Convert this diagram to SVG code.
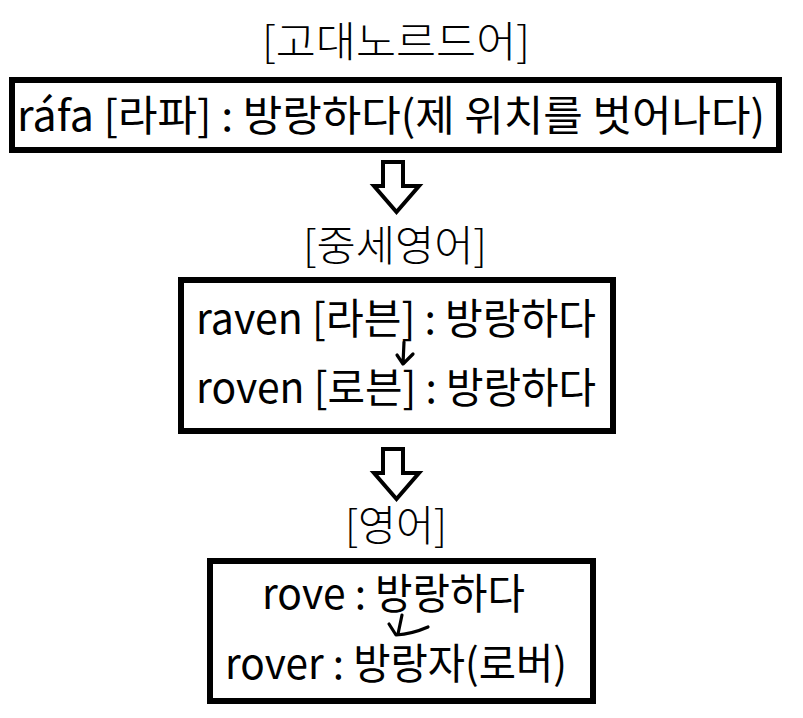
<svg xmlns="http://www.w3.org/2000/svg" width="803" height="718" viewBox="0 0 803 718">
<style>
  text { font-family: "Noto Sans CJK KR", "Noto Sans", sans-serif; font-size: 42px; fill: #000; }
  .title { font-weight: 300; }
  .box { fill: #fff; stroke: #000; stroke-width: 6; }
  .big { fill: #fff; stroke: #000; stroke-width: 4; stroke-linejoin: miter; }
  .hand { fill: none; stroke: #000; stroke-width: 3.2; stroke-linecap: round; stroke-linejoin: round; }
</style>
<rect width="803" height="718" fill="#fff"/>
<g id="title-old-norse">
  <text class="title" x="396" y="57" text-anchor="middle" textLength="268" lengthAdjust="spacingAndGlyphs">[고대노르드어]</text>
</g>
<g id="node-old-norse">
  <rect class="box" x="12" y="80" width="767" height="70"/>
  <text x="17" y="131" textLength="748" lengthAdjust="spacingAndGlyphs">ráfa [라파] : 방랑하다(제 위치를 벗어나다)</text>
</g>
<g id="title-middle-english">
  <text class="title" x="395" y="261" text-anchor="middle" textLength="184" lengthAdjust="spacingAndGlyphs">[중세영어]</text>
</g>
<g id="node-middle-english">
  <rect class="box" x="181" y="280" width="432" height="151"/>
  <text x="196" y="334" textLength="400" lengthAdjust="spacingAndGlyphs">raven [라븐] : 방랑하다</text>
  <text x="196" y="403" textLength="400" lengthAdjust="spacingAndGlyphs">roven [로븐] : 방랑하다</text>
</g>
<g id="title-english">
  <text class="title" x="396" y="541" text-anchor="middle" textLength="102" lengthAdjust="spacingAndGlyphs">[영어]</text>
</g>
<g id="node-english">
  <rect class="box" x="210" y="561" width="383" height="140"/>
  <text x="262" y="609" textLength="263" lengthAdjust="spacingAndGlyphs">rove : 방랑하다</text>
  <text x="225" y="679" textLength="342" lengthAdjust="spacingAndGlyphs">rover : 방랑자(로버)</text>
</g>
<g id="connectors">
  <polygon class="big" points="383,162 403,162 403,186 419,186 396.5,212 374,186 383,186"/>
  <polygon class="big" points="383,449 403,449 403,473 419,473 396.5,499 374,473 383,473"/>
  <path class="hand" d="M404 342 L403 364 M397 355 L403 364 L413 354"/>
  <path class="hand" d="M402 615 L398 634 M389 624 L396 635 Q412 634 428 627"/>
</g>
</svg>
